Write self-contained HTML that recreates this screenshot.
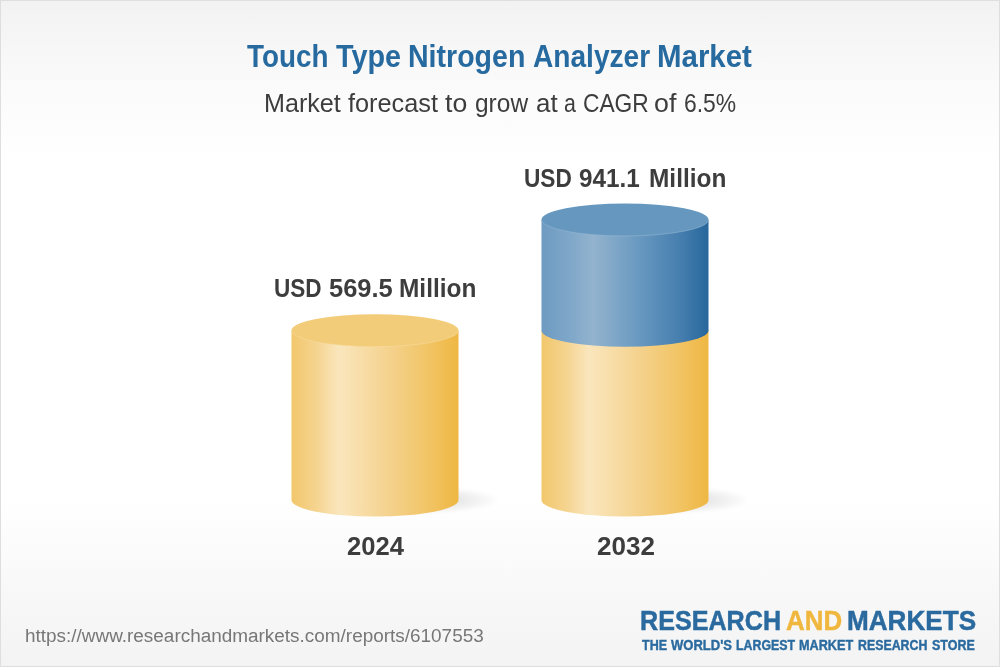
<!DOCTYPE html>
<html>
<head>
<meta charset="utf-8">
<style>
html,body{margin:0;padding:0;}
body{width:1000px;height:667px;overflow:hidden;position:relative;font-family:"Liberation Sans",Arial,sans-serif;}
#bg{position:absolute;left:0;top:0;width:998px;height:665px;border:1px solid #dedede;
background:linear-gradient(to bottom,#f2f2f2 0%,#fafafa 12%,#ffffff 24%,#ffffff 75%,#f8f8f8 89%,#f3f3f3 100%);}
.t{position:absolute;white-space:nowrap;line-height:1;transform-origin:0 0;}
.title{font-weight:bold;color:#266a9f;}
.sub{color:#3d3d3d;}
.v1,.v2,.y1,.y2{font-weight:bold;color:#3d3d3d;}
.url{color:#777;}
.logo{font-weight:bold;color:#2a6a9f;-webkit-text-stroke:0.5px #2a6a9f;}
#logo1{color:#f0b73f;-webkit-text-stroke:0.5px #f0b73f;}
.tag{font-weight:bold;color:#2a6a9f;-webkit-text-stroke:0.4px #2a6a9f;}
svg{position:absolute;left:0;top:0;}
.title{top:40.70px;font-size:31.60px;}
#title0{left:247.26px;transform:scaleX(0.8810);}
#title1{left:336.06px;transform:scaleX(0.9123);}
#title2{left:408.11px;transform:scaleX(0.9036);}
#title3{left:532.55px;transform:scaleX(0.8894);}
#title4{left:657.43px;transform:scaleX(0.9317);}
.sub{top:91.00px;font-size:25.40px;}
#sub0{left:263.67px;transform:scaleX(0.9898);}
#sub1{left:347.97px;transform:scaleX(0.9962);}
#sub2{left:445.08px;transform:scaleX(1.0474);}
#sub3{left:474.67px;transform:scaleX(0.9643);}
#sub4{left:535.81px;transform:scaleX(1.0199);}
#sub5{left:563.99px;transform:scaleX(0.8396);}
#sub6{left:583.37px;transform:scaleX(0.8962);}
#sub7{left:654.01px;transform:scaleX(1.0534);}
#sub8{left:683.99px;transform:scaleX(0.9012);}
.v1{top:275.60px;font-size:25.00px;}
#v10{left:274.28px;transform:scaleX(0.9024);}
#v11{left:328.83px;transform:scaleX(1.0191);}
#v12{left:398.63px;transform:scaleX(0.9769);}
.v2{top:165.60px;font-size:25.00px;}
#v20{left:524.28px;transform:scaleX(0.9065);}
#v21{left:578.77px;transform:scaleX(0.9704);}
#v22{left:649.43px;transform:scaleX(0.9769);}
.y1{top:533.60px;font-size:25.00px;}
#y10{left:346.51px;transform:scaleX(1.0239);}
.y2{top:533.60px;font-size:25.00px;}
#y20{left:596.51px;transform:scaleX(1.0406);}
.url{top:626.60px;font-size:18.00px;}
#url0{left:24.86px;transform:scaleX(1.0516);}
.logo{top:605.60px;font-size:28.50px;}
#logo0{left:639.91px;transform:scaleX(0.8819);}
#logo1{left:786.29px;transform:scaleX(0.9091);}
#logo2{left:846.99px;transform:scaleX(0.9158);}
.tag{top:637.70px;font-size:14.00px;}
#tag0{left:642.14px;transform:scaleX(0.8932);}
#tag1{left:670.94px;transform:scaleX(0.9295);}
#tag2{left:736.02px;transform:scaleX(0.8841);}
#tag3{left:799.20px;transform:scaleX(0.9049);}
#tag4{left:858.42px;transform:scaleX(0.8823);}
#tag5{left:932.11px;transform:scaleX(0.8916);}

</style>
</head>
<body>
<div id="bg"></div>
<svg width="1000" height="667" viewBox="0 0 1000 667">
<defs>
<linearGradient id="gy" x1="0" x2="1" y1="0" y2="0">
<stop offset="0" stop-color="#f2c76c"/>
<stop offset="0.15" stop-color="#f5d490"/>
<stop offset="0.285" stop-color="#fae6bd"/>
<stop offset="0.6" stop-color="#f4d18b"/>
<stop offset="0.85" stop-color="#f1c25f"/>
<stop offset="1" stop-color="#efb743"/>
</linearGradient>
<linearGradient id="gb" x1="0" x2="1" y1="0" y2="0">
<stop offset="0" stop-color="#6e9bc2"/>
<stop offset="0.17" stop-color="#7fa7c9"/>
<stop offset="0.31" stop-color="#93b3ce"/>
<stop offset="0.6" stop-color="#6697bf"/>
<stop offset="0.85" stop-color="#437cad"/>
<stop offset="1" stop-color="#27669b"/>
</linearGradient>
<filter id="blur" x="-50%" y="-50%" width="200%" height="200%"><feGaussianBlur stdDeviation="1.5"/></filter>
<radialGradient id="gs" cx="0.5" cy="0.5" r="0.5">
<stop offset="0" stop-color="#000" stop-opacity="0.13"/>
<stop offset="0.5" stop-color="#000" stop-opacity="0.09"/>
<stop offset="0.8" stop-color="#000" stop-opacity="0.04"/>
<stop offset="1" stop-color="#000" stop-opacity="0"/>
</radialGradient>
</defs>
<ellipse cx="415" cy="500" rx="85" ry="14" fill="url(#gs)" filter="url(#blur)"/>
<ellipse cx="665" cy="500" rx="85" ry="14" fill="url(#gs)" filter="url(#blur)"/>
<path d="M291.5,330.5 V500 A83.5,16.5 0 0 0 458.5,500 V330.5 Z" fill="url(#gy)"/>
<ellipse cx="375" cy="330.4" rx="83.5" ry="16.25" fill="#f2cc79"/>
<path d="M291.5,330.4 A83.5,16.25 0 0 0 458.5,330.4" fill="none" stroke="#fbe3b0" stroke-width="0.8" opacity="0.5"/>
<path d="M541.5,330.5 V500 A83.5,16.5 0 0 0 708.5,500 V330.5 Z" fill="url(#gy)"/>
<path d="M541.5,219.7 V330.5 A83.5,16.25 0 0 0 708.5,330.5 V219.7 Z" fill="url(#gb)"/>
<ellipse cx="625" cy="219.7" rx="83.5" ry="16.25" fill="#6698bf"/>
<path d="M541.5,219.7 A83.5,16.25 0 0 0 708.5,219.7" fill="none" stroke="#a9c3da" stroke-width="0.8" opacity="0.5"/>
</svg>
<div class="t title" id="title0">Touch</div>
<div class="t title" id="title1">Type</div>
<div class="t title" id="title2">Nitrogen</div>
<div class="t title" id="title3">Analyzer</div>
<div class="t title" id="title4">Market</div>
<div class="t sub" id="sub0">Market</div>
<div class="t sub" id="sub1">forecast</div>
<div class="t sub" id="sub2">to</div>
<div class="t sub" id="sub3">grow</div>
<div class="t sub" id="sub4">at</div>
<div class="t sub" id="sub5">a</div>
<div class="t sub" id="sub6">CAGR</div>
<div class="t sub" id="sub7">of</div>
<div class="t sub" id="sub8">6.5%</div>
<div class="t v1" id="v10">USD</div>
<div class="t v1" id="v11">569.5</div>
<div class="t v1" id="v12">Million</div>
<div class="t v2" id="v20">USD</div>
<div class="t v2" id="v21">941.1</div>
<div class="t v2" id="v22">Million</div>
<div class="t y1" id="y10">2024</div>
<div class="t y2" id="y20">2032</div>
<div class="t url" id="url0">https://www.researchandmarkets.com/reports/6107553</div>
<div class="t logo" id="logo0">RESEARCH</div>
<div class="t logo" id="logo1">AND</div>
<div class="t logo" id="logo2">MARKETS</div>
<div class="t tag" id="tag0">THE</div>
<div class="t tag" id="tag1">WORLD'S</div>
<div class="t tag" id="tag2">LARGEST</div>
<div class="t tag" id="tag3">MARKET</div>
<div class="t tag" id="tag4">RESEARCH</div>
<div class="t tag" id="tag5">STORE</div>

</body>
</html>
